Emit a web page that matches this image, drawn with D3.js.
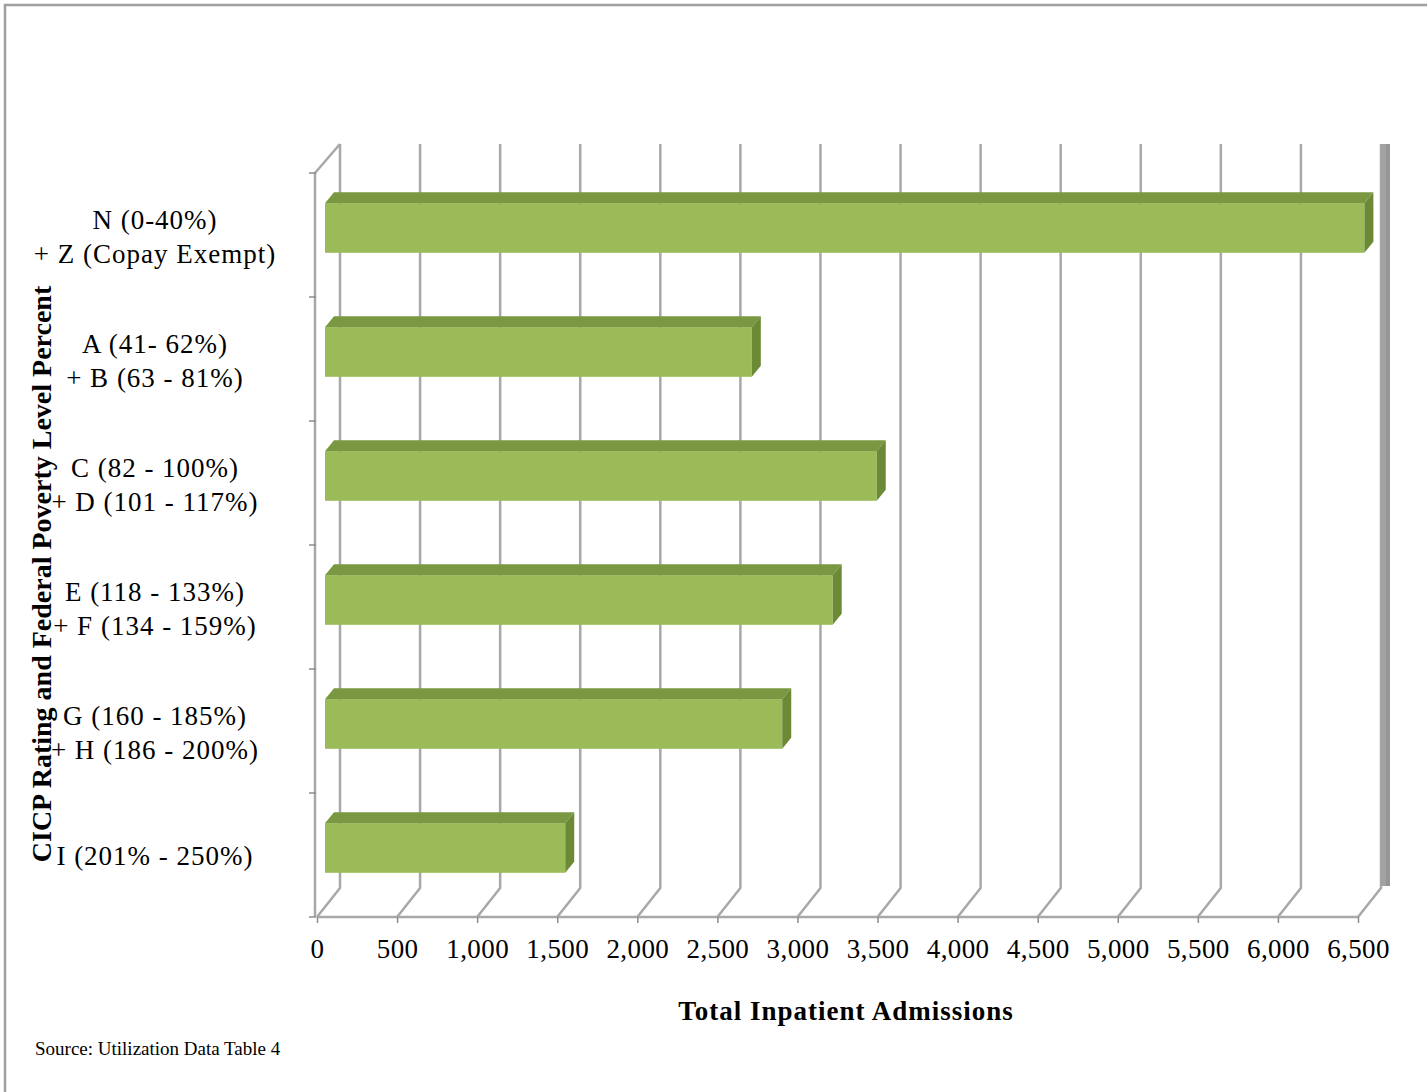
<!DOCTYPE html>
<html>
<head>
<meta charset="utf-8">
<script src="https://cdn.jsdelivr.net/npm/d3@7"></script>
<style>
  html, body { margin: 0; padding: 0; background: #fff; }
  svg { display: block; }
  text { font-family: "Liberation Serif", "Times New Roman", serif; fill: #000; }
</style>
</head>
<body>
<script>
// Admissions by CICP rating group
const categories = [
  ["N (0-40%)", "+ Z (Copay Exempt)"],
  ["A (41- 62%)", "+ B (63 - 81%)"],
  ["C (82 - 100%)", "+ D (101 - 117%)"],
  ["E (118 - 133%)", "+ F (134 - 159%)"],
  ["G (160 - 185%)", "+ H (186 - 200%)"],
  ["I (201% - 250%)"]
];
const admissions = [6490, 2665, 3445, 3170, 2855, 1500];
const tickValues = [0, 500, 1000, 1500, 2000, 2500, 3000, 3500, 4000, 4500, 5000, 5500, 6000, 6500];
const xTitle = "Total Inpatient  Admissions";
const yTitle = "CICP Rating and Federal Poverty Level Percent";
const sourceNote = "Source: Utilization Data Table 4";

(function draw() {
  const W = 1427, H = 1092;
  const svg = d3.select("body").append("svg").attr("width", W).attr("height", H);

  // plot box (front plane) and 3-D depth offset of the back wall
  const pLeft = 317, pRight = 1358, pTop = 173, pBottom = 917;
  const DX = 23, DY = -29;
  const gridColor = "#a8a8a8";

  const x = d3.scaleLinear().domain([0, 6500]).range([pLeft, pRight]);
  const ids = categories.map((c, i) => i);
  const y = d3.scaleBand().domain(ids).range([pTop, pBottom])
    .paddingInner(0.6).paddingOuter(0.3);
  const yEdges = d3.scaleLinear().domain([0, categories.length]).range([pTop, pBottom]);

  // outer frame
  svg.append("path").attr("d", `M5,${H} V5 H${W}`)
    .attr("fill", "none").attr("stroke", "#a0a0a0").attr("stroke-width", 2.5);

  const grid = svg.append("g").attr("fill", "none").attr("stroke", gridColor)
    .attr("stroke-width", 2.5).attr("stroke-linejoin", "round");

  // back-wall verticals and floor slants for each gridline
  tickValues.forEach(v => {
    const xf = x(v), xb = x(v) + DX;
    grid.append("path").attr("d", `M${xb},${pTop + DY} V${pBottom + DY} L${xf},${pBottom}`);
  });

  // left side edge
  grid.append("path").attr("d", `M${x(0) + DX},${pTop + DY} L${x(0) - 2},${pTop} V${pBottom}`);
  // floor front edge
  grid.append("path").attr("d", `M${x(0)},${pBottom} H${x(6500)}`);

  // right side wall seen edge-on
  svg.append("rect")
    .attr("x", x(6500) + DX).attr("y", pTop + DY)
    .attr("width", 9).attr("height", pBottom - pTop - 2)
    .attr("fill", "#a2a2a2");
  svg.append("rect")
    .attr("x", x(6500) + DX + 5).attr("y", pTop + DY)
    .attr("width", 4).attr("height", pBottom - pTop - 2)
    .attr("fill", "#969696");

  // category boundary ticks on the left
  svg.append("g").selectAll("line")
    .data(d3.range(categories.length + 1))
    .join("line")
    .attr("x1", x(0) - 8).attr("x2", x(0) - 1)
    .attr("y1", d => yEdges(d)).attr("y2", d => yEdges(d))
    .attr("stroke", "#8c8c8c").attr("stroke-width", 1.5);

  // value axis ticks and labels
  const xAxis = d3.axisBottom(x).tickValues(tickValues)
    .tickFormat(d3.format(",")).tickSize(6).tickPadding(16);
  const gx = svg.append("g").attr("transform", `translate(0,${pBottom})`).call(xAxis);
  gx.select(".domain").remove();
  gx.selectAll(".tick line").attr("stroke", "#8c8c8c").attr("stroke-width", 1.5);
  gx.selectAll(".tick text").attr("font-size", 27).attr("letter-spacing", 0.4)
    .attr("font-family", "Liberation Serif, Times New Roman, serif").attr("fill", "#000");

  // 3-D bars
  const bfx = 8, bfy = -7;      // front face offset from the front plane
  const bdx = 9, bdy = -11;     // bar depth
  const bars = svg.append("g");
  admissions.forEach((v, i) => {
    const x0 = x(0) + bfx, x1 = x(v) + bfx;
    const yt = y(i) + bfy, h = y.bandwidth();
    bars.append("rect").attr("x", x0).attr("y", yt)
      .attr("width", x1 - x0).attr("height", h).attr("fill", "#9bbb59");
    bars.append("path")
      .attr("d", `M${x0},${yt} L${x0 + bdx},${yt + bdy} H${x1 + bdx} L${x1},${yt} Z`)
      .attr("fill", "#7a9741");
    bars.append("path")
      .attr("d", `M${x1},${yt} L${x1 + bdx},${yt + bdy} V${yt + bdy + h} L${x1},${yt + h} Z`)
      .attr("fill", "#6c8a35");
  });

  // category labels
  const labelX = 155, lineH = 34;
  const lab = svg.append("g").attr("font-size", 27).attr("letter-spacing", 1)
    .attr("text-anchor", "middle");
  categories.forEach((lines, i) => {
    const c = yEdges(i + 0.5);
    const first = c + 10 - (lines.length - 1) * 16;
    const t = lab.append("text");
    lines.forEach((s, k) => {
      t.append("tspan").attr("x", labelX).attr("y", first + k * lineH).text(s);
    });
  });

  // axis titles
  svg.append("text")
    .attr("transform", `translate(51,574) rotate(-90)`)
    .attr("text-anchor", "middle").attr("font-size", 28).attr("font-weight", "bold")
    .text(yTitle);
  svg.append("text")
    .attr("x", 846).attr("y", 1020)
    .attr("text-anchor", "middle").attr("font-size", 27).attr("font-weight", "bold")
    .attr("letter-spacing", 1)
    .text(xTitle);
  svg.append("text")
    .attr("x", 35).attr("y", 1055).attr("font-size", 19)
    .text(sourceNote);
})();
</script>
</body>
</html>
